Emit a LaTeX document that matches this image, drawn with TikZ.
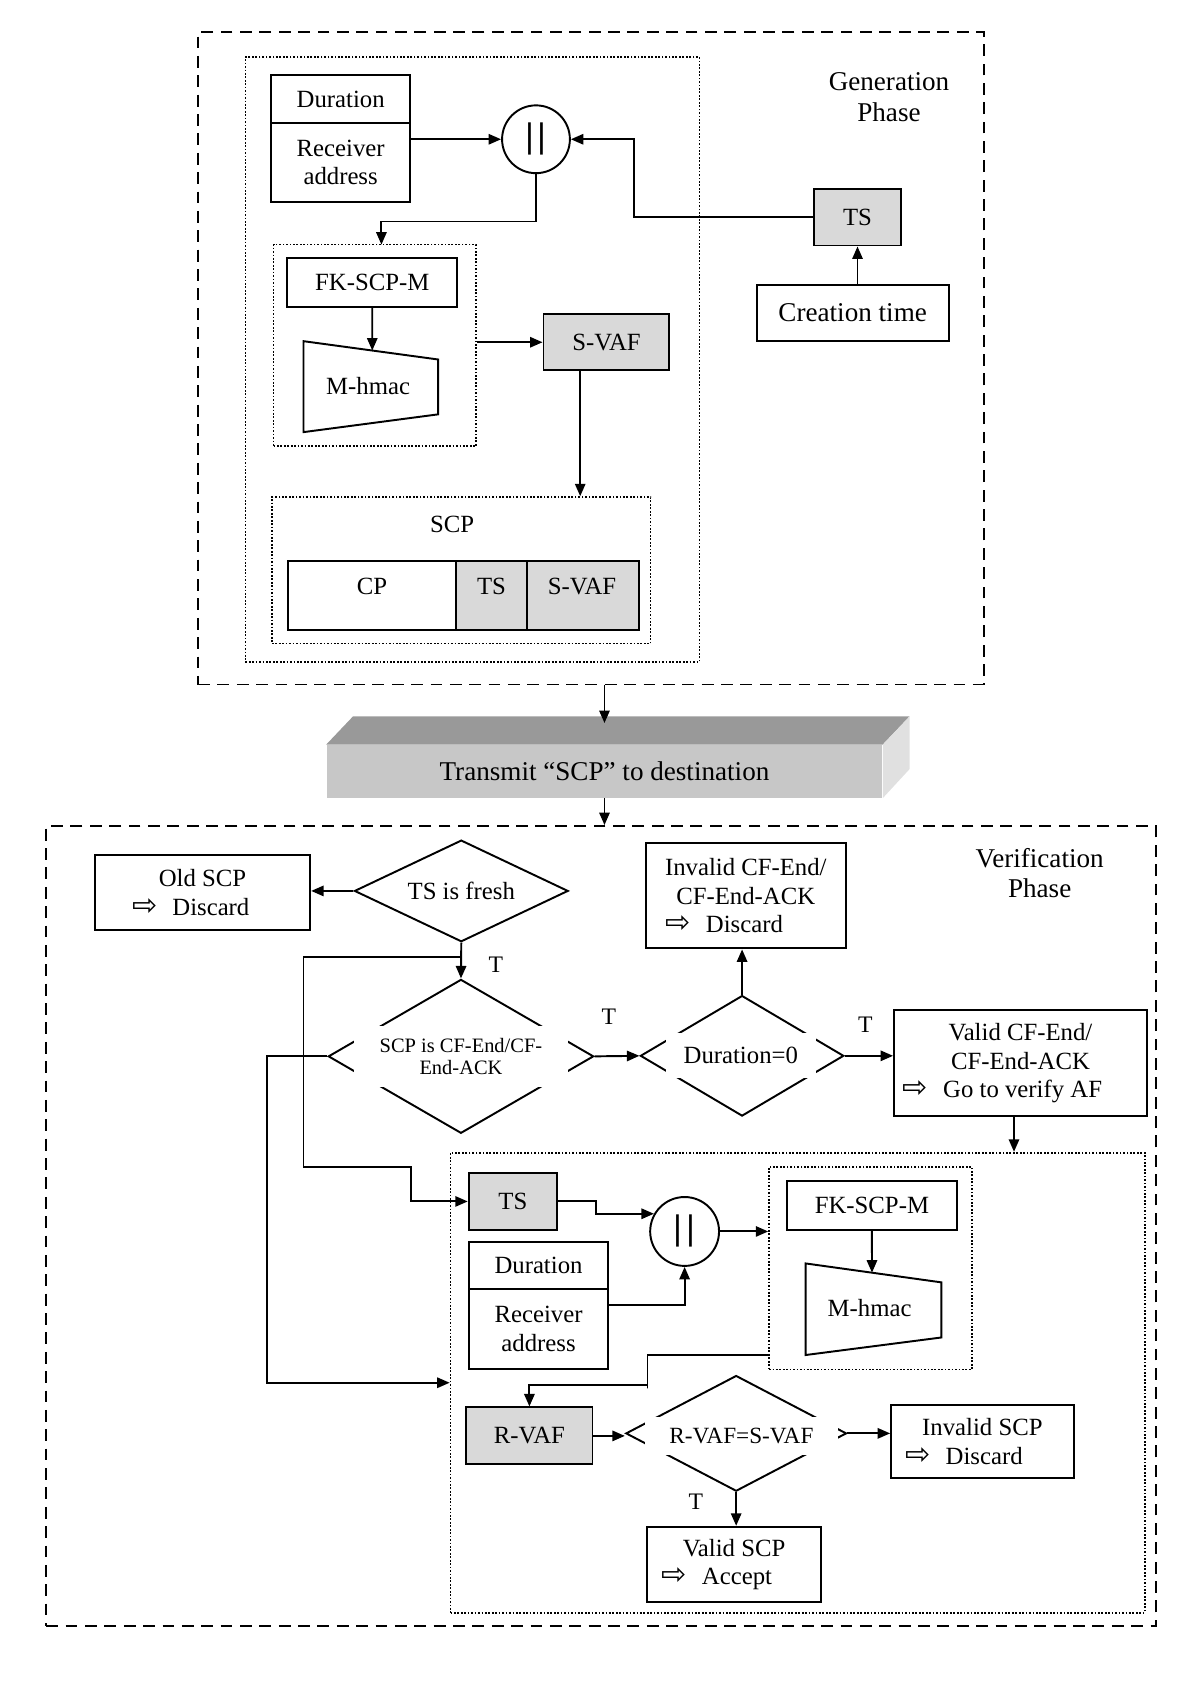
\documentclass[tikz,border=0pt]{standalone}
\usepackage{fontspec}
\setmainfont{Liberation Serif}
\newfontfamily\symf{DejaVu Sans}
\usetikzlibrary{arrows.meta,shapes.geometric,fit,calc}
\newcommand\fnorm{\fontsize{11.5}{13.2}\selectfont}
\newcommand\fbig{\fontsize{12.6}{14}\selectfont}
\newcommand\fsmall{\fontsize{9.5}{10.5}\selectfont}
\newcommand\fcmp{\fontsize{10.8}{12}\selectfont}
\newcommand\ftee{\fontsize{11}{12}\selectfont}
\newcommand\cbar{{\symf\fontsize{15}{15}\selectfont|\kern0.8pt|}}
\newcommand\wa{{\symf\fontsize{14}{14}\selectfont ⇨}\hspace{7pt}}
\tikzset{
  span/.style n args={4}{minimum width={(#3-#1)*0.5pt}, minimum height={(#4-#2)*0.5pt}, at={({(#1+#3)/2},{(#2+#4)/2})}},
  box/.style={draw, rectangle, line width=0.9pt, inner sep=0pt, align=center, font=\fnorm},
  gbox/.style={box, fill=black!15},
  conn/.style={line width=0.9pt, -{Triangle[length=5.8pt,width=4.8pt]}},
  plain/.style={line width=0.9pt},
  dashbox/.style={draw, rectangle, line width=0.9pt, dash pattern=on 5.5pt off 3.5pt, inner sep=0pt},
  dotbox/.style={draw, rectangle, line width=0.8pt, dash pattern=on 0.8pt off 0.8pt, inner sep=0pt},
  dia/.style={diamond, draw, line width=0.9pt, inner sep=0pt},
  cover/.style={fill=white, inner sep=0pt, align=center},
  catc/.style={circle, draw, line width=0.9pt, inner sep=0pt},
  tlab/.style={font=\ftee, inner sep=0pt},
  txt/.style={font=\fnorm, inner sep=0pt, align=center},
}
\begin{document}
\begin{tikzpicture}[x=0.5pt, y=-0.5pt]
\useasboundingbox (0,0) rectangle (1115,1568.4);

% ---------------- Generation phase ----------------
\node[dashbox, span={184}{30}{914}{636}] (gen) {};
\node[txt, font=\fbig] (genlbl) at (826,90.3) {Generation\\Phase};
\node[dotbox, span={228}{53}{650}{615}] (ginner) {};
\node[box, span={252}{70}{381}{114}] (gdur) {Duration};
\node[box, span={252}{114}{381}{188}] (grecv) {Receiver\\address};
\node[catc, minimum size=31.5pt] (gcat) at (498,129.4) {\cbar};
\node[gbox, span={756}{175.6}{837.5}{228.1}] (gts) {TS};
\node[box, font=\fbig, span={703}{264.4}{881.5}{316.8}] (gct) {Creation time};
\draw[conn] (gts.south |- gct.north) -- (gts.south);
\draw[conn] (grecv.east |- gcat.west) -- (gcat.west);
\draw[conn] (gts.west) -- ++(-166,0) |- (gcat.east);

\node[dotbox, span={254.2}{227.3}{442.3}{414.7}] (ggrp) {};
\coordinate (ggrpin) at (354.4,227.3);
\draw[conn] (gcat.south) -- ++(0,44) -| (ggrpin);
\node[box, span={267}{239.4}{424.7}{285.3}] (gfk) {FK-SCP-M};
\draw[plain] (282,317) -- (407,334) -- (407,385) -- (282,401.5) -- cycle;
\node[txt] (gmh) at (342,358.3) {M-hmac};
\coordinate (gmhin) at (345.9,325.7);
\draw[conn] (gfk.south) -- (gmhin);
\node[gbox, span={505}{291.8}{622}{344.2}] (gsvaf) {S-VAF};
\draw[conn] (ggrp.east |- gsvaf.west) -- (gsvaf.west);

\node[dotbox, span={252.7}{461.9}{604.5}{598}] (gscp) {};
\draw[conn] ([xshift=17.5pt]gsvaf.south west) -- ([xshift=17.5pt]gsvaf.south west |- gscp.north);
\node[txt] (gscplbl) at (420,487) {SCP};
\node[box, span={267.4}{521}{423.7}{585.4}] (gcp) {};
\node[gbox, span={423.7}{521}{489.7}{585.4}] (gcts) {};
\node[gbox, span={489.7}{521}{593.3}{585.4}] (gcsv) {};
\node[txt] (gcpT) at (345.7,544.5) {CP};
\node[txt] (gctsT) at (456.7,544.5) {TS};
\node[txt] (gcsvT) at (540.8,544.5) {S-VAF};

% ---------------- Transmit ----------------
\node[rectangle, span={303.5}{692.2}{819.8}{741.2}, fill=black!22, inner sep=0pt, font=\fbig] (tx) {Transmit “SCP” to destination};
\fill[black!40] (tx.north west) -- ++(25,-26.3) -- ($(tx.north east)+(25,-26.3)$) -- (tx.north east) -- cycle;
\fill[black!12] (tx.north east) -- ++(25,-26.3) -- ++(0,49) -- (tx.south east) -- cycle;
\draw[conn] (gen.south -| tx.north) -- ([yshift=10pt]tx.north);

% ---------------- Verification phase ----------------
\node[dashbox, span={43}{767.5}{1074}{1511}] (ver) {};
\draw[conn] (tx.south) -- (tx.south |- ver.north);
\node[txt, font=\fbig] (verlbl) at (966,811.5) {Verification\\Phase};

\node[box, span={88.2}{794.5}{288.2}{864.2}] (vold) {Old SCP\\\wa Discard\kern11pt};
\node[dia, minimum width=99.3pt, minimum height=47.2pt] (vfresh) at (428.6,827.8) {};
\node[txt] (vfreshT) at (vfresh) {TS is fresh};
\draw[conn] (vfresh.west) -- (vfresh.west -| vold.east);

\node[dia, minimum width=123.3pt, minimum height=71.5pt] (vscp) at (428.3,981.5) {};
\node[cover, font=\fsmall, minimum width=99pt, minimum height=28.6pt] (vscpT) at (428.3,981.5) {SCP is CF-End/CF-\\End-ACK};
\draw[conn] (vfresh.south) -- (vscp.north);
\node[tlab] (t1) at (460.8,896.7) {T};

\node[dia, minimum width=94.5pt, minimum height=56pt] (vdur) at (689.5,981) {};
\node[cover, font=\fnorm, minimum width=69.65pt, minimum height=20.9pt] (vdurT) at (688.3,981) {Duration=0};
\draw[conn] (vscp.east) -- (vdur.west);
\node[tlab] (t2) at (565.6,944.7) {T};

\node[box, span={599.8}{783}{786.1}{881.2}] (vinv) {Invalid CF-End/\\CF-End-ACK\\\wa Discard\kern20pt};
\draw[conn] (vdur.north) -- (vdur.north |- vinv.south);

\node[box, span={830.7}{938.5}{1065.6}{1037}] (vval) {Valid CF-End/\\CF-End-ACK\\\wa Go to verify AF\kern16.7pt};
\draw[conn] (vdur.east) -- (vdur.east -| vval.west);
\node[tlab] (t3) at (804,952.4) {T};

\node[dotbox, span={418.6}{1071}{1063.7}{1498.5}] (vin) {};
\draw[conn] ([xshift=-3pt]vval.south) -- ([xshift=-3pt]vval.south |- vin.north);
\draw[conn] (vscp.west) -- ++(-55.7,0) |- (vin.west);

\node[gbox, span={435.5}{1089.7}{517.6}{1142.9}] (vts) {TS};
\draw[conn] ([yshift=-6.65pt]vfresh.south) -| (282,1084) -- (382,1084) |- (vts.west);
\node[catc, minimum size=32pt] (vcat) at (636.1,1144.2) {\cbar};
\draw[conn] (vts.east) -- ++(35.6,0) |- (vcat.150);
\node[box, span={436.1}{1153.8}{564.6}{1197.7}] (vdur2) {Duration};
\node[box, span={436.1}{1197.7}{564.6}{1272.1}] (vrecv) {Receiver\\address};
\draw[conn] ([yshift=11.15pt]vrecv.east) -| (vcat.south);

\node[dotbox, span={714.6}{1084}{903}{1272.4}] (vgrp) {};
\draw[conn] (vcat.east) -- (vcat.east -| vgrp.west);
\node[box, span={731.5}{1097}{888.8}{1143}] (vfk) {FK-SCP-M};
\draw[plain] (748.5,1173.9) -- (874.7,1191.5) -- (874.7,1242.7) -- (748.5,1259) -- cycle;
\node[txt] (vmh) at (808,1215.7) {M-hmac};
\coordinate (vmhin) at (810.2,1182.5);
\draw[conn] (vfk.south) -- (vmhin);

\node[gbox, span={433.3}{1307.7}{550.5}{1360.6}] (vrvaf) {R-VAF};
\draw[conn] ([yshift=-40.4pt]vgrp.west) -- ++(-112.2,0) -- ++(0,31) -- ++(0,-3) -| (vrvaf.north);

\node[dia, minimum width=102.5pt, minimum height=53.75pt] (vcmp) at (684,1331.8) {};
\node[cover, font=\fcmp, minimum width=89.5pt, minimum height=17.8pt] (vcmpT) at (688.9,1334.2) {R-VAF=S-VAF};
\draw[conn] (vrvaf.east) -- (vrvaf.east -| vcmp.west);

\node[box, span={828}{1305.5}{997.5}{1373.6}] (vinvs) {Invalid SCP\\\wa Discard\kern17pt};
\draw[conn] (vcmp.east) -- (vcmp.east -| vinvs.west);

\node[box, span={601.4}{1418.6}{762.7}{1488.9}] (vvals) {Valid SCP\\\wa Accept\kern16pt};
\draw[conn] (vcmp.south) -- (vcmp.south |- vvals.north);
\node[tlab] (t4) at (646.6,1395.3) {T};
\end{tikzpicture}
\end{document}
